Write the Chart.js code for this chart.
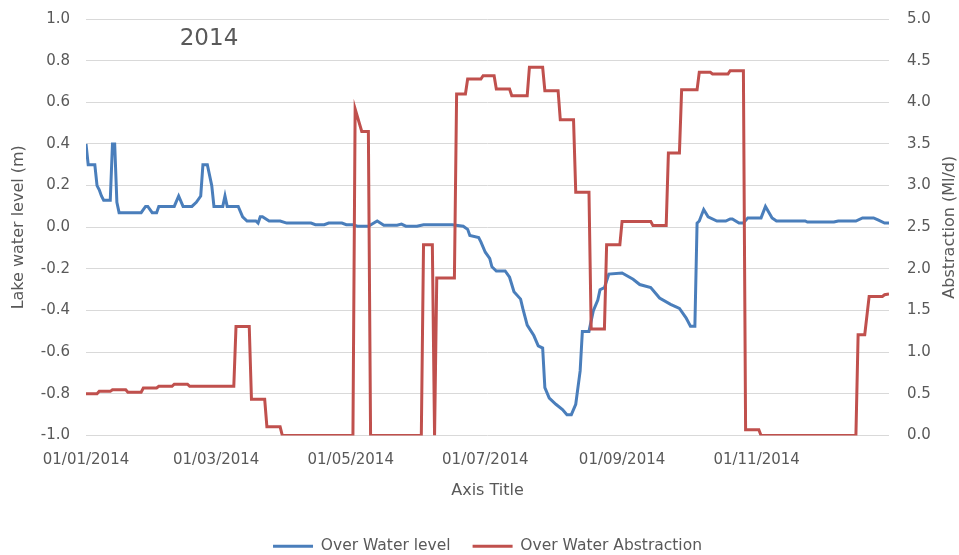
<!DOCTYPE html>
<html>
<head>
<meta charset="utf-8">
<script src="https://cdn.jsdelivr.net/npm/chart.js@4/dist/chart.umd.min.js"></script>
<style>
html,body{margin:0;padding:0;background:#fff;}
#wrap{width:959px;height:555px;}
</style>
</head>
<body>
<div id="wrap"><canvas id="c" width="959" height="555"></canvas></div>
<script>
const chartTitle = '2014';
const xAxisTitle = 'Axis Title';
const leftAxisTitle = 'Lake water level (m)';
const rightAxisTitle = 'Abstraction (Ml/d)';
const seriesNames = ['Over Water level', 'Over Water Abstraction'];

// x tick positions (day of year) and labels
const xTickDays = [0, 59, 120, 181, 243, 304];
const xTickLabels = ['01/01/2014', '01/03/2014', '01/05/2014', '01/07/2014', '01/09/2014', '01/11/2014'];

// Lake water level (m), left axis
const levelDays = [0,1,4,5,6,7,8,11,12,13,14,15,25,27,28,30,32,33,40,42,44,48,50,52,53,55,57,58,62,63,64,69,71,73,77,78,79,80,83,88,91,102,104,108,110,116,118,121,123,128,132,135,141,143,145,150,153,166,171,173,174,178,179,181,183,184,186,190,192,194,197,198,200,203,205,207,208,210,213,216,218,220,222,224,225,228,230,232,233,235,237,243,248,251,256,260,265,269,272,274,276,277,278,280,282,286,290,292,293,296,298,300,306,308,311,313,326,327,339,341,349,352,357,359,362,364];
const levelValues = [0.40,0.30,0.30,0.20,0.18,0.15,0.13,0.13,0.40,0.40,0.12,0.07,0.07,0.10,0.10,0.07,0.07,0.10,0.10,0.15,0.10,0.10,0.12,0.15,0.30,0.30,0.20,0.10,0.10,0.15,0.10,0.10,0.05,0.03,0.03,0.02,0.05,0.05,0.03,0.03,0.02,0.02,0.012,0.012,0.02,0.02,0.012,0.012,0.005,0.005,0.03,0.01,0.01,0.015,0.005,0.005,0.012,0.012,0.005,-0.01,-0.04,-0.05,-0.07,-0.12,-0.15,-0.19,-0.21,-0.21,-0.24,-0.31,-0.345,-0.39,-0.47,-0.52,-0.57,-0.58,-0.77,-0.82,-0.85,-0.875,-0.90,-0.90,-0.85,-0.69,-0.50,-0.50,-0.40,-0.35,-0.30,-0.29,-0.225,-0.22,-0.25,-0.275,-0.29,-0.34,-0.37,-0.39,-0.435,-0.475,-0.475,0.02,0.03,0.085,0.05,0.03,0.03,0.04,0.04,0.02,0.02,0.045,0.045,0.10,0.045,0.03,0.03,0.025,0.025,0.03,0.03,0.045,0.045,0.035,0.02,0.02];

// Abstraction (Ml/d), right axis
const abstractionDays = [0,5,6,11,12,18,19,25,26,32,33,39,40,46,47,67,68,74,75,81,82,88,89,121,122,125,128,129,152,153,157,158,159,167,168,172,173,179,180,185,186,192,193,200,201,207,208,214,215,221,222,228,229,235,236,242,243,256,257,263,264,269,270,277,278,283,284,291,292,298,299,305,306,349,350,353,355,361,362,364];
const abstractionValues = [0.50,0.50,0.53,0.53,0.55,0.55,0.52,0.52,0.57,0.57,0.59,0.59,0.615,0.615,0.59,0.59,1.31,1.31,0.435,0.435,0.104,0.104,0,0,3.92,3.65,3.65,0,0,2.29,2.29,0,1.89,1.89,4.10,4.10,4.28,4.28,4.32,4.32,4.16,4.16,4.08,4.08,4.42,4.42,4.14,4.14,3.79,3.79,2.92,2.92,1.28,1.28,2.29,2.29,2.57,2.57,2.52,2.52,3.39,3.39,4.15,4.15,4.36,4.36,4.34,4.34,4.38,4.38,0.07,0.07,0,0,1.21,1.21,1.67,1.67,1.69,1.70];

const FONT = '"DejaVu Sans", sans-serif';
const TXT = '#595959';
const BLUE = '#4A7EBB';
const RED = '#C0504D';
const CLEAR = 'rgba(0,0,0,0)';

const toPoints = (xs, ys) => xs.map((d, i) => ({ x: d, y: ys[i] }));
const fmt1 = v => (Math.abs(v) < 1e-9 ? 0 : v).toFixed(1);

const overlay = {
  id: 'overlay',
  afterDraw(chart) {
    const ctx = chart.ctx, a = chart.chartArea;
    ctx.save();
    ctx.fillStyle = TXT;
    ctx.textAlign = 'center';
    ctx.textBaseline = 'middle';
    ctx.font = '23px ' + FONT;
    ctx.fillText(chartTitle, a.left + 123, a.top + 20);
    const s = chart.scales.y1;
    ctx.translate(s.right - 9, (a.top + a.bottom) / 2);
    ctx.rotate(-Math.PI / 2);
    ctx.font = '16px ' + FONT;
    ctx.fillText(rightAxisTitle, 0, 0);
    ctx.restore();
  }
};

new Chart(document.getElementById('c'), {
  type: 'line',
  data: {
    datasets: [
      { label: seriesNames[0], data: toPoints(levelDays, levelValues), yAxisID: 'y',
        borderColor: BLUE, backgroundColor: BLUE, borderWidth: 3, pointRadius: 0, tension: 0, order: 1 },
      { label: seriesNames[1], data: toPoints(abstractionDays, abstractionValues), yAxisID: 'y1',
        borderColor: RED, backgroundColor: RED, borderWidth: 3, pointRadius: 0, tension: 0, order: 0 }
    ]
  },
  options: {
    responsive: false,
    animation: false,
    layout: { padding: { top: 19, left: 0, right: 0, bottom: -9 } },
    plugins: {
      tooltip: { enabled: false },
      legend: {
        position: 'bottom',
        fullSize: false,
        labels: {
          usePointStyle: true, pointStyle: 'line', pointStyleWidth: 40,
          padding: 22, color: TXT, font: { family: FONT, size: 15.5 },
          sort: (a, b) => a.datasetIndex - b.datasetIndex
        }
      }
    },
    scales: {
      x: {
        type: 'linear', min: 0, max: 364,
        afterBuildTicks: s => { s.ticks = xTickDays.map(v => ({ value: v })); },
        afterFit: s => { s.height = 81; },
        grid: { display: false, drawTicks: false },
        border: { display: false },
        ticks: {
          autoSkip: false, maxRotation: 0, minRotation: 0, padding: 16, color: TXT,
          font: { family: FONT, size: 15 },
          callback: v => { const i = xTickDays.indexOf(v); return i >= 0 ? xTickLabels[i] : ''; }
        },
        title: { display: true, text: xAxisTitle, color: TXT, font: { family: FONT, size: 16 }, padding: { top: 0, bottom: 16 } }
      },
      y: {
        position: 'left', min: -1, max: 1,
        afterFit: s => { s.width = 86; },
        grid: { color: '#d9d9d9', lineWidth: 1, drawTicks: true, tickLength: 14, tickColor: CLEAR },
        border: { display: false },
        ticks: { stepSize: 0.2, padding: 2, color: TXT, font: { family: FONT, size: 15 }, callback: v => fmt1(v) },
        title: { display: true, text: leftAxisTitle, color: TXT, font: { family: FONT, size: 16 }, padding: { top: 9.5, bottom: 0 } }
      },
      y1: {
        position: 'right', min: 0, max: 5,
        afterFit: s => { s.width = 70; },
        grid: { display: true, drawOnChartArea: false, color: CLEAR, drawTicks: true, tickLength: 16, tickColor: CLEAR },
        border: { display: false },
        ticks: { stepSize: 0.5, padding: 2, color: TXT, font: { family: FONT, size: 15 }, callback: v => fmt1(v) }
      }
    }
  },
  plugins: [overlay]
});
</script>
</body>
</html>
